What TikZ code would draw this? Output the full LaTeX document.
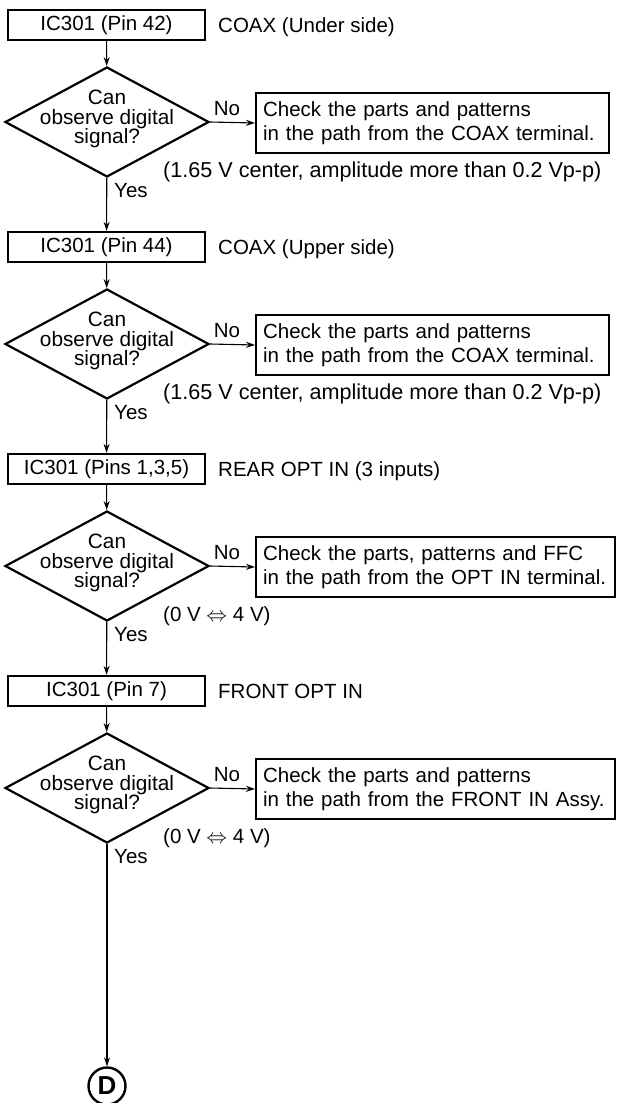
\documentclass[tikz,border=0pt]{standalone}
\usepackage{fontspec}
\setmainfont{Liberation Sans}
\usetikzlibrary{shapes.geometric,arrows.meta}
\begin{document}
\begin{tikzpicture}[x=1pt,y=-1pt,
  every node/.style={font=\fontsize{20.5}{24}\selectfont},
  icbox/.style={draw,line width=2.2pt,minimum width=197pt,minimum height=30pt,inner sep=0pt},
  dec/.style={draw,diamond,line width=2.2pt,minimum width=204pt,minimum height=110pt,inner sep=0pt},
  dtext/.style={align=center,font=\fontsize{20.8}{19.5}\selectfont,inner sep=0pt},
  chk/.style={draw,line width=2.2pt,minimum height=60pt,align=left,inner xsep=7pt,anchor=west},
  lbl/.style={anchor=base west,inner sep=0pt},
  widelbl/.style={anchor=base west,inner sep=0pt,font=\fontsize{21.6}{24}\selectfont},
  nolbl/.style={anchor=base,inner sep=0pt},
  conn/.style={line width=1.1pt,-{Stealth[length=9pt,width=6pt]}},
]
\useasboundingbox (0,0) rectangle (618,1103);

% Block 1
\node[icbox] (b1) at (106.5,25) {IC301 (Pin 42)};
\node[lbl] (s1) at (218,32) {COAX (Under side)};
\node[dec] (d1) at (107,122) {};
\node[dtext] (t1) at (107,119) {Can\\observe digital\\signal?};
\node[nolbl] (n1) at (227,115) {No};
\node[chk,text width=339pt] (c1) at (255,123) {Check the parts and patterns\\in the path from the COAX terminal.};
\node[widelbl] (p1) at (163,177) {(1.65 V center, amplitude more than 0.2 Vp-p)};
\node[lbl] (y1) at (114,197) {Yes};

% Block 2
\node[icbox] (b2) at (106.5,247) {IC301 (Pin 44)};
\node[lbl] (s2) at (218,254) {COAX (Upper side)};
\node[dec] (d2) at (107,344) {};
\node[dtext] (t2) at (107,341) {Can\\observe digital\\signal?};
\node[nolbl] (n2) at (227,337) {No};
\node[chk,text width=339pt] (c2) at (255,345) {Check the parts and patterns\\in the path from the COAX terminal.};
\node[widelbl] (p2) at (163,399) {(1.65 V center, amplitude more than 0.2 Vp-p)};
\node[lbl] (y2) at (114,419) {Yes};

% Block 3
\node[icbox] (b3) at (106.5,469) {IC301 (Pins 1,3,5)};
\node[lbl] (s3) at (218,476) {REAR OPT IN (3 inputs)};
\node[dec] (d3) at (107,566) {};
\node[dtext] (t3) at (107,563) {Can\\observe digital\\signal?};
\node[nolbl] (n3) at (227,559) {No};
\node[chk,text width=345pt] (c3) at (255,567) {Check the parts, patterns and FFC\\in the path from the OPT IN terminal.};
\node[lbl] (p3) at (163,621) {(0 V $\Leftrightarrow$ 4 V)};
\node[lbl] (y3) at (114,641) {Yes};

% Block 4
\node[icbox] (b4) at (106.5,691) {IC301 (Pin 7)};
\node[lbl] (s4) at (218,698) {FRONT OPT IN};
\node[dec] (d4) at (107,788) {};
\node[dtext] (t4) at (107,785) {Can\\observe digital\\signal?};
\node[nolbl] (n4) at (227,781) {No};
\node[chk,text width=345pt] (c4) at (255,789) {Check the parts and patterns\\in the path from the FRONT IN Assy.};
\node[lbl] (p4) at (163,843) {(0 V $\Leftrightarrow$ 4 V)};
\node[lbl] (y4) at (114,863) {Yes};

% End connector
\node[draw,circle,line width=2.4pt,minimum size=37pt,inner sep=0pt,font=\fontsize{26}{26}\selectfont\bfseries] (D) at (107,1086) {D};

% Connectors
\draw[conn] (b1) -- (d1);
\draw[conn] (d1.east) -- (c1.west);
\draw[conn] (d1) -- (b2);
\draw[conn] (b2) -- (d2);
\draw[conn] (d2.east) -- (c2.west);
\draw[conn] (d2) -- (b3);
\draw[conn] (b3) -- (d3);
\draw[conn] (d3.east) -- (c3.west);
\draw[conn] (d3) -- (b4);
\draw[conn] (b4) -- (d4);
\draw[conn] (d4.east) -- (c4.west);
\draw[conn] (d4) -- (D);
\end{tikzpicture}
\end{document}
